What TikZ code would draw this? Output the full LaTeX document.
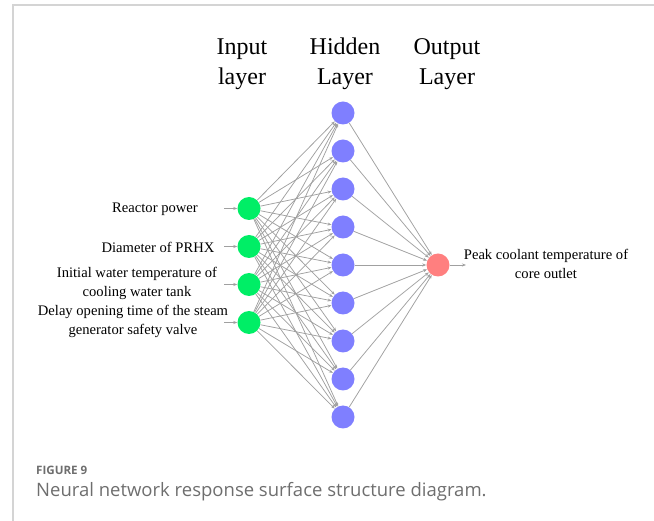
\documentclass[tikz,border=0pt]{standalone}
\usepackage{fontspec}
\setmainfont{Liberation Serif}
\newfontfamily\capfont{Open Sans}
\usetikzlibrary{arrows.meta}
\definecolor{ingreen}{HTML}{00EE66}
\definecolor{hidblue}{HTML}{7F7FFF}
\definecolor{outred}{HTML}{FF7F7F}
\definecolor{edgegray}{HTML}{A0A0A0}
\definecolor{framegray}{HTML}{D4D4D4}
\definecolor{capgray}{HTML}{6E6E6E}
\begin{document}
\begin{tikzpicture}[x=1pt,y=-1pt,
  neuron/.style={circle,minimum size=23pt,inner sep=0pt},
  innode/.style={neuron,fill=ingreen},
  hidnode/.style={neuron,fill=hidblue},
  outnode/.style={neuron,fill=outred},
  conn/.style={draw=edgegray,line width=0.75pt,-{Stealth[length=4pt,width=3pt]}},
  header/.style={font=\fontsize{24}{30}\selectfont,align=center},
  lbl/.style={font=\fontsize{14.6}{19}\selectfont,align=center},
  capstyle/.style={anchor=west,inner sep=0pt,text=capgray}
  ]
\useasboundingbox (0,0) rectangle (654,521);
\draw[framegray,line width=1.3pt] (13,521) -- (13,5) -- (654,5);

% headers
\node[header] (hin) at (242,64) {Input\\layer};
\node[header] (hhid) at (345,64) {Hidden\\Layer};
\node[header] (hout) at (447,64) {Output\\Layer};

% neurons
\foreach \k in {1,...,4} {
  \node[innode] (i\k) at (249,{208.5+38*(\k-1)}) {};
}
\foreach \k in {1,...,9} {
  \node[hidnode] (h\k) at (343,{113+38*(\k-1)}) {};
}
\node[outnode] (o) at (438,265) {};

% connections
\foreach \a in {1,...,4} {
  \foreach \b in {1,...,9} {
    \draw[conn] (i\a) -- (h\b);
  }
}
\foreach \b in {1,...,9} {
  \draw[conn] (h\b) -- (o);
}

% input labels
\node[lbl] (l1) at (155,209) {Reactor power};
\node[lbl] (l2) at (158,247) {Diameter of PRHX};
\node[lbl] (l3) at (137,283) {Initial water temperature of\\cooling water tank};
\node[lbl] (l4) at (133,321) {Delay opening time of the steam\\generator safety valve};
\foreach \k in {1,...,4} {
  \coordinate (a\k) at (224,{208.5+38*(\k-1)});
  \draw[conn] (a\k) -- (i\k);
}

% output label
\node[lbl] (lo) at (546,264) {Peak coolant temperature of\\core outlet};
\coordinate (ao) at (466,265);
\draw[conn] (o) -- (ao);

% caption
\node[capstyle,font=\capfont\bfseries\fontsize{11.6}{14}\selectfont] (fig) at (36,470) {FIGURE 9};
\node[capstyle,font=\capfont\fontsize{18.5}{22}\selectfont] (cap) at (36,492) {Neural network response surface structure diagram.};
\end{tikzpicture}
\end{document}
